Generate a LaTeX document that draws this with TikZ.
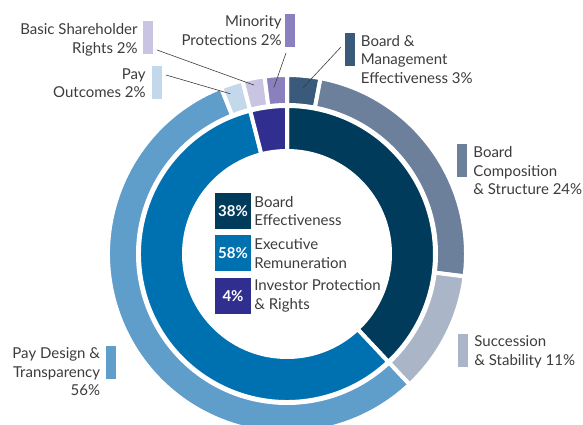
\documentclass[tikz,border=0pt]{standalone}
\usepackage{fontspec}
\setmainfont{Lato}
\usetikzlibrary{positioning}
\definecolor{beff}{HTML}{003B5C}
\definecolor{erem}{HTML}{0071B0}
\definecolor{ipro}{HTML}{302E8E}
\definecolor{bme}{HTML}{3A5A7C}
\definecolor{bcs}{HTML}{6C809C}
\definecolor{suc}{HTML}{ABB5C8}
\definecolor{pdt}{HTML}{5F9DCB}
\definecolor{pout}{HTML}{C4D8EC}
\definecolor{bsr}{HTML}{C8C4E1}
\definecolor{minp}{HTML}{8A80BD}
\definecolor{txt}{HTML}{3C3C3C}
\tikzset{
  seg/.style={draw=white, line width=4pt},
  bar/.style={minimum width=10pt, minimum height=33pt, inner sep=0pt},
  lbl/.style={text=txt, inner sep=0pt, font=\fontsize{15}{18.5}\selectfont},
  key/.style={minimum size=36pt, inner sep=0pt, text=white, font=\fontsize{15}{16}\selectfont\bfseries},
  leader/.style={draw=txt, line width=0.6pt}
}
\begin{document}
\begin{tikzpicture}[x=1pt,y=1pt]
\useasboundingbox (-287,-171) rectangle (296,254);
\clip (-287,-171) rectangle (296,254);

% outer ring
\foreach \a/\b/\c in {90/79.2/bme, 79.2/-7.2/bcs, -7.2/-46.8/suc, -46.8/-248.4/pdt, 111.6/104.4/pout, 104.4/97.2/bsr, 97.2/90/minp}
  \filldraw[seg, fill=\c] (\a:149) arc[start angle=\a, end angle=\b, radius=149] -- (\b:179) arc[start angle=\b, end angle=\a, radius=179] -- cycle;

% inner ring
\foreach \a/\b/\c in {90/-46.8/beff, -46.8/-255.6/erem, 104.4/90/ipro}
  \filldraw[seg, fill=\c] (\a:103) arc[start angle=\a, end angle=\b, radius=103] -- (\b:148) arc[start angle=\b, end angle=\a, radius=148] -- cycle;

% key
\node[key, fill=beff] (k1) at (-54,43) {38\%};
\node[lbl, right=3pt of k1, align=left] (t1) {Board\\Effectiveness};
\node[key, fill=erem, below=6pt of k1] (k2) {58\%};
\node[lbl, right=3pt of k2, align=left] (t2) {Executive\\Remuneration};
\node[key, fill=ipro, below=6pt of k2] (k3) {4\%};
\node[lbl, right=3pt of k3, align=left] (t3) {Investor Protection\\\& Rights};

% labels right
\node[bar, fill=bme] (bmebar) at (62.5,204.5) {};
\node[lbl, align=left, anchor=north west] (bmetxt) at ([xshift=6pt,yshift=-2pt]bmebar.north east) {Board \&\\Management\\Effectiveness 3\%};
\node[bar, fill=bcs] (bcsbar) at (175,93) {};
\node[lbl, align=left, anchor=north west] (bcstxt) at ([xshift=6pt,yshift=-2pt]bcsbar.north east) {Board\\Composition\\\& Structure 24\%};
\node[bar, fill=suc] (sucbar) at (176,-96.5) {};
\node[lbl, align=left, anchor=north west] (suctxt) at ([xshift=6pt,yshift=-2pt]sucbar.north east) {Succession\\\& Stability 11\%};

% labels left
\node[bar, fill=pdt] (pdtbar) at (-175.5,-108.5) {};
\node[lbl, align=right, anchor=north east] (pdttxt) at ([xshift=-6pt,yshift=-2pt]pdtbar.north west) {Pay Design \&\\Transparency\\56\%};
\node[bar, fill=pout] (poutbar) at (-130,171) {};
\node[lbl, align=right, anchor=north east] (pouttxt) at ([xshift=-6pt,yshift=-2pt]poutbar.north west) {Pay\\Outcomes 2\%};
\node[bar, fill=bsr] (bsrbar) at (-139,216) {};
\node[lbl, align=right, anchor=north east] (bsrtxt) at ([xshift=-5pt,yshift=-2pt]bsrbar.north west) {Basic Shareholder\\Rights 2\%};
\node[bar, fill=minp] (minpbar) at (3,223.5) {};
\node[lbl, align=right, anchor=north east] (minptxt) at ([xshift=-3pt,yshift=-2pt]minpbar.north west) {Minority\\Protections 2\%};

% leaders
\coordinate (bsrfrom) at (-130,204);
\coordinate (bsrto) at (101:172);
\coordinate (minpfrom) at (-1,201);
\coordinate (minpto) at (94.5:167);
\coordinate (poutfrom) at (-121,179);
\coordinate (poutto) at (109.5:170);
\coordinate (bmefrom) at (54,207);
\coordinate (bmeto) at (84.5:167);
\draw[leader] (bsrfrom) -- (bsrto);
\draw[leader] (minpfrom) -- (minpto);
\draw[leader] (poutfrom) -- (poutto);
\draw[leader] (bmefrom) -- (bmeto);
\end{tikzpicture}
\end{document}
